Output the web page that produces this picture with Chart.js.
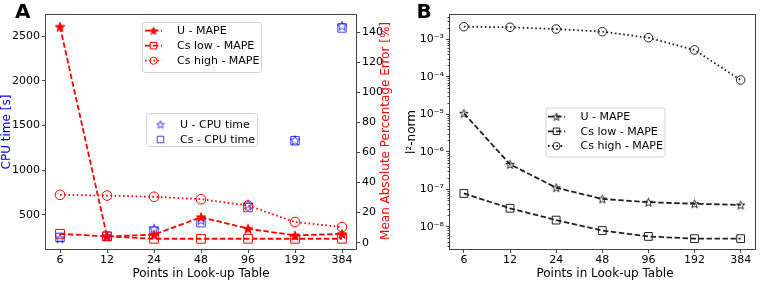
<!DOCTYPE html>
<html>
<head>
<meta charset="utf-8">
<script src="https://cdn.jsdelivr.net/npm/chart.js@4.4.0/dist/chart.umd.min.js"></script>
<style>
  body { margin: 0; background: #fff; }
  #wrap { position: relative; width: 761px; height: 281px; }
  canvas { position: absolute; top: 0; }
  #chartA { left: 0; }
  #chartB { left: 395px; }
</style>
</head>
<body>
<div id="wrap">
  <canvas id="chartA" width="395" height="281" style="width:395px;height:281px"></canvas>
  <canvas id="chartB" width="366" height="281" style="width:366px;height:281px"></canvas>
</div>
<script>
// data
const lutPoints = [6, 12, 24, 48, 96, 192, 384];

// panel A, right axis (MAPE, %)
const uMape = [143.5, 4.2, 5.3, 17.0, 9.3, 4.8, 5.8];
const csLowMape = [5.9, 4.2, 2.6, 2.6, 2.6, 2.6, 2.6];
const csHighMape = [31.8, 31.3, 30.5, 28.9, 24.7, 13.7, 10.4];

// panel A, left axis (CPU time, s)
const uCpuTime = [235, 262, 343, 440, 615, 1335, 2620];
const csCpuTime = [245, 258, 316, 410, 580, 1330, 2595];

// panel B (l2-norm)
const uNorm = [1.06e-5, 4.6e-7, 1.1e-7, 5.5e-8, 4.5e-8, 4.1e-8, 3.8e-8];
const csLowNorm = [7.7e-8, 3.1e-8, 1.5e-8, 7.9e-9, 5.5e-9, 4.8e-9, 4.8e-9];
const csHighNorm = [2.17e-3, 2.09e-3, 1.88e-3, 1.6e-3, 1.1e-3, 5.2e-4, 8.2e-5];

const cpuTicks = [500, 1000, 1500, 2000, 2500];
const mapeTicks = [0, 20, 40, 60, 80, 100, 120, 140];
const normTicks = [1e-8, 1e-7, 1e-6, 1e-5, 1e-4, 1e-3];

const FONT = '"DejaVu Sans", sans-serif';
const TICK_SIZE = 11;
const frameColor = '#444';
const RED = '#ff0000';
const BLUE = 'rgba(0,0,255,0.75)';
const BLACK = '#222';

function makeStar(color, fill, R) {
  const size = Math.ceil(R * 2 + 2);
  const c = document.createElement('canvas');
  c.width = c.height = size;
  const g = c.getContext('2d');
  const cx = size / 2, cy = size / 2 + R * 0.1, r = R * 0.42;
  g.beginPath();
  for (let i = 0; i < 10; i++) {
    const a = -Math.PI / 2 + i * Math.PI / 5;
    const rad = i % 2 ? r : R;
    g.lineTo(cx + rad * Math.cos(a), cy + rad * Math.sin(a));
  }
  g.closePath();
  if (fill) { g.fillStyle = color; g.fill(); }
  g.strokeStyle = color;
  g.lineWidth = 1;
  g.stroke();
  return c;
}

const redStar = makeStar(RED, true, 5);
const blueStar = makeStar(BLUE, false, 5);
const blackStar = makeStar(BLACK, false, 4.5);
const redStarSmall = makeStar(RED, true, 4);
const blueStarSmall = makeStar(BLUE, false, 4);
const blackStarSmall = makeStar(BLACK, false, 4);

const DASH = [5.5, 2.5];
const DOT = [1.6, 2.6];
const LW = 1.8;

function pts(vals) {
  return vals.map((v, i) => ({ x: lutPoints[i], y: v }));
}

function xScale(min, max) {
  return {
    type: 'logarithmic', position: 'bottom', min: min, max: max,
    afterBuildTicks: s => { s.ticks = lutPoints.map(v => ({ value: v })); },
    afterFit: s => { s.height = 32; },
    ticks: { callback: v => String(v), autoSkip: false, maxRotation: 0, color: '#000', font: { family: FONT, size: TICK_SIZE }, padding: 1 },
    grid: { drawOnChartArea: false, tickLength: 4, color: frameColor },
    border: { display: false }
  };
}

function drawLegend(ctx, lg) {
  ctx.save();
  ctx.beginPath();
  ctx.roundRect(lg.x + 0.5, lg.y + 0.5, lg.w, lg.h, 3);
  ctx.fillStyle = 'rgba(255,255,255,0.8)';
  ctx.fill();
  ctx.strokeStyle = '#d0d0d0';
  ctx.lineWidth = 1;
  ctx.stroke();
  ctx.font = '11px ' + FONT;
  ctx.textBaseline = 'middle';
  ctx.textAlign = 'left';
  lg.rows.forEach(r => {
    if (r.dash) {
      ctx.beginPath();
      ctx.setLineDash(r.dash);
      ctx.strokeStyle = r.color;
      ctx.lineWidth = LW;
      ctx.moveTo(lg.lineX0, r.y);
      ctx.lineTo(lg.lineX1, r.y);
      ctx.stroke();
      ctx.setLineDash([]);
    }
    ctx.fillStyle = 'rgba(0,0,0,0)';
    ctx.strokeStyle = r.color;
    ctx.lineWidth = 1;
    Chart.helpers.drawPoint(ctx, { pointStyle: r.style, radius: r.radius, rotation: 0, borderWidth: 1 }, lg.markX, r.y);
    ctx.fillStyle = '#000';
    ctx.fillText(r.label, lg.textX, r.y + 0.5);
  });
  ctx.restore();
}

function makeDecor(spec) {
  return {
    id: 'decor',
    afterDraw(chart) {
      const ctx = chart.ctx, a = chart.chartArea;
      ctx.save();
      ctx.strokeStyle = frameColor;
      ctx.lineWidth = 1;
      ctx.strokeRect(Math.round(a.left) - 0.5, Math.round(a.top) - 0.5, Math.round(a.right - a.left) + 1, Math.round(a.bottom - a.top) + 1);
      if (spec.minorLog) {
        const sc = chart.scales[spec.minorLog];
        ctx.beginPath();
        for (let e = -9; e <= -2; e++) {
          for (let k = 2; k <= 9; k++) {
            const v = k * Math.pow(10, e);
            if (v < sc.min || v > sc.max) continue;
            const y = Math.round(sc.getPixelForValue(v)) + 0.5;
            ctx.moveTo(a.left - 2.5, y);
            ctx.lineTo(a.left, y);
          }
        }
        ctx.stroke();
      }
      spec.titles.forEach(t => {
        ctx.save();
        ctx.translate(t.x, t.y);
        ctx.rotate(t.rot || 0);
        ctx.font = (t.bold ? 'bold ' : '') + t.size + 'px ' + FONT;
        ctx.fillStyle = t.color || '#000';
        ctx.textAlign = t.align || 'center';
        ctx.textBaseline = t.base || 'middle';
        ctx.fillText(t.text, 0, 0);
        ctx.restore();
      });
      spec.legends.forEach(lg => drawLegend(ctx, lg));
      ctx.restore();
    }
  };
}

// ---------------- Panel A ----------------
new Chart(document.getElementById('chartA'), {
  type: 'line',
  data: {
    datasets: [
      { label: 'U - MAPE', data: pts(uMape), yAxisID: 'y1', borderColor: RED, borderWidth: LW, borderDash: DASH,
        pointStyle: redStar, pointRadius: 5, fill: false },
      { label: 'Cs low - MAPE', data: pts(csLowMape), yAxisID: 'y1', borderColor: RED, borderWidth: LW, borderDash: DASH,
        pointStyle: 'rect', pointRadius: 6.2, pointBorderColor: RED, pointBackgroundColor: 'rgba(0,0,0,0)', pointBorderWidth: 1, fill: false },
      { label: 'Cs high - MAPE', data: pts(csHighMape), yAxisID: 'y1', borderColor: RED, borderWidth: LW, borderDash: DOT,
        pointStyle: 'circle', pointRadius: 4.8, pointBorderColor: RED, pointBackgroundColor: 'rgba(0,0,0,0)', pointBorderWidth: 1, fill: false },
      { label: 'U - CPU time', data: pts(uCpuTime), yAxisID: 'y', showLine: false,
        pointStyle: blueStar, pointRadius: 5 },
      { label: 'Cs - CPU time', data: pts(csCpuTime), yAxisID: 'y', showLine: false,
        pointStyle: 'rect', pointRadius: 6, pointBorderColor: BLUE, pointBackgroundColor: 'rgba(0,0,0,0)', pointBorderWidth: 1 }
    ]
  },
  options: {
    responsive: false,
    animation: false,
    layout: { padding: { top: 15, left: 0, right: 0, bottom: 0 } },
    plugins: { legend: { display: false }, tooltip: { enabled: false } },
    scales: {
      x: xScale(4.88, 472),
      y: {
        type: 'linear', position: 'left', min: 115, max: 2740,
        afterBuildTicks: s => { s.ticks = cpuTicks.map(v => ({ value: v })); },
        afterFit: s => { s.width = 46; },
        ticks: { callback: v => String(v), color: '#000', font: { family: FONT, size: TICK_SIZE }, padding: 2 },
        grid: { drawOnChartArea: false, tickLength: 4, color: frameColor },
        border: { display: false }
      },
      y1: {
        type: 'linear', position: 'right', min: -4.2, max: 151.3,
        afterBuildTicks: s => { s.ticks = mapeTicks.map(v => ({ value: v })); },
        afterFit: s => { s.width = 39; },
        ticks: { callback: v => String(v), color: '#000', font: { family: FONT, size: TICK_SIZE }, padding: 2 },
        grid: { drawOnChartArea: false, tickLength: 4, color: frameColor },
        border: { display: false }
      }
    }
  },
  plugins: [makeDecor({
    titles: [
      { text: 'A', x: 15, y: 17.5, size: 20, bold: true, align: 'left', base: 'alphabetic' },
      { text: 'CPU time [s]', x: 7, y: 132, size: 12, color: '#0000ff', rot: -Math.PI / 2 },
      { text: 'Mean Absolute Percentage Error [%]', x: 386, y: 131, size: 12, color: '#ff0000', rot: -Math.PI / 2 },
      { text: 'Points in Look-up Table', x: 201, y: 274, size: 12 }
    ],
    legends: [
      { x: 142, y: 22, w: 119, h: 50, lineX0: 145, lineX1: 162, markX: 153.5, textX: 177,
        rows: [
          { label: 'U - MAPE', y: 30.7, color: RED, dash: DASH, style: redStarSmall, radius: 4 },
          { label: 'Cs low - MAPE', y: 45.7, color: RED, dash: DASH, style: 'rect', radius: 4.6 },
          { label: 'Cs high - MAPE', y: 60.7, color: RED, dash: DOT, style: 'circle', radius: 3.6 }
        ] },
      { x: 146, y: 113, w: 111, h: 33, markX: 160.5, textX: 180,
        rows: [
          { label: 'U - CPU time', y: 124.5, color: BLUE, style: blueStarSmall, radius: 4 },
          { label: 'Cs - CPU time', y: 139.5, color: BLUE, style: 'rect', radius: 4.6 }
        ] }
    ]
  })]
});

// ---------------- Panel B ----------------
const SUP = { '-': '\u207B', '0': '\u2070', '1': '\u00B9', '2': '\u00B2', '3': '\u00B3', '4': '\u2074', '5': '\u2075', '6': '\u2076', '7': '\u2077', '8': '\u2078', '9': '\u2079' };

new Chart(document.getElementById('chartB'), {
  type: 'line',
  data: {
    datasets: [
      { label: 'U - MAPE', data: pts(uNorm), borderColor: BLACK, borderWidth: LW, borderDash: DASH,
        pointStyle: blackStar, pointRadius: 4.5, fill: false },
      { label: 'Cs low - MAPE', data: pts(csLowNorm), borderColor: BLACK, borderWidth: LW, borderDash: DASH,
        pointStyle: 'rect', pointRadius: 5.5, pointBorderColor: BLACK, pointBackgroundColor: 'rgba(0,0,0,0)', pointBorderWidth: 1, fill: false },
      { label: 'Cs high - MAPE', data: pts(csHighNorm), borderColor: BLACK, borderWidth: LW, borderDash: DOT,
        pointStyle: 'circle', pointRadius: 4.3, pointBorderColor: BLACK, pointBackgroundColor: 'rgba(0,0,0,0)', pointBorderWidth: 1, fill: false }
    ]
  },
  options: {
    responsive: false,
    animation: false,
    layout: { padding: { top: 15, left: 0, right: 1, bottom: 0 } },
    plugins: { legend: { display: false }, tooltip: { enabled: false } },
    scales: {
      x: xScale(4.87, 473),
      y: {
        type: 'logarithmic', position: 'left', min: Math.pow(10, -8.595), max: Math.pow(10, -2.352),
        afterBuildTicks: s => { s.ticks = normTicks.map(v => ({ value: v })); },
        afterFit: s => { s.width = 55; },
        ticks: {
          color: '#000', font: { family: FONT, size: TICK_SIZE }, padding: 2,
          callback: v => '10' + String(Math.round(Math.log10(v))).split('').map(ch => SUP[ch]).join('')
        },
        grid: { drawOnChartArea: false, tickLength: 4, color: frameColor },
        border: { display: false }
      }
    }
  },
  plugins: [makeDecor({
    minorLog: 'y',
    titles: [
      { text: 'B', x: 21.5, y: 17.5, size: 20, bold: true, align: 'left', base: 'alphabetic' },
      { text: 'l\u00B2-norm', x: 17, y: 132, size: 12, rot: -Math.PI / 2 },
      { text: 'Points in Look-up Table', x: 210, y: 274, size: 12 }
    ],
    legends: [
      { x: 150.5, y: 107.5, w: 119, h: 49, lineX0: 153, lineX1: 170, markX: 161.5, textX: 185.5,
        rows: [
          { label: 'U - MAPE', y: 116.7, color: BLACK, dash: DASH, style: blackStarSmall, radius: 4 },
          { label: 'Cs low - MAPE', y: 131.3, color: BLACK, dash: DASH, style: 'rect', radius: 4.6 },
          { label: 'Cs high - MAPE', y: 146, color: BLACK, dash: DOT, style: 'circle', radius: 3.6 }
        ] }
    ]
  })]
});
</script>
</body>
</html>
